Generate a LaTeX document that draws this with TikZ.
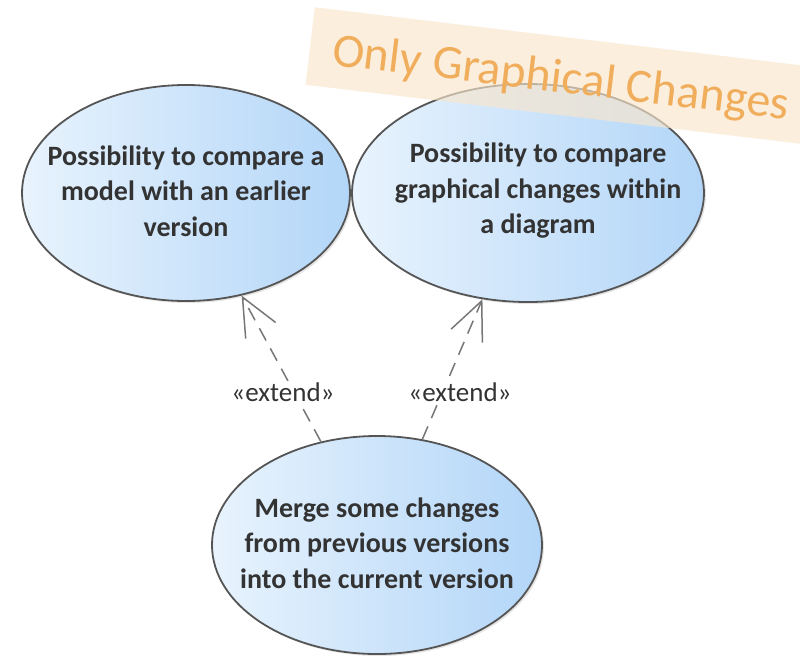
\documentclass[tikz,border=0pt]{standalone}
\usepackage{fontspec}
\setmainfont{Carlito}
\usetikzlibrary{shapes.geometric,arrows.meta,shadows}
\definecolor{ucleft}{HTML}{E8F3FD}
\definecolor{ucright}{HTML}{B3D6F8}
\definecolor{ucline}{HTML}{555555}
\definecolor{uctext}{HTML}{333333}
\definecolor{bannerfill}{HTML}{F9E6CC}
\definecolor{bannertext}{HTML}{F0AE5C}
\definecolor{arrowgray}{HTML}{777777}
\tikzset{
  usecase/.style={ellipse, draw=ucline, line width=1.8pt, shading=axis,
    left color=ucleft, right color=ucright, inner sep=0pt,
    drop shadow={opacity=0.2, shadow xshift=2pt, shadow yshift=-2pt}},
  uctxt/.style={align=center, text=uctext, font=\fontsize{28}{35.5}\selectfont\bfseries},
  extendarrow/.style={draw=arrowgray, line width=1.5pt, dash pattern=on 14pt off 9pt,
    -{Straight Barb[length=38pt, width=34pt, line width=1.5pt]}},
  extlabel/.style={fill=white, text=uctext, inner sep=2pt, font=\fontsize{27}{30}\selectfont},
  banner/.style={fill=bannerfill, fill opacity=0.65, minimum width=540pt,
    minimum height=78pt, inner sep=0pt},
  bannertxt/.style={text=bannertext, inner sep=0pt, font=\fontsize{48}{54}\selectfont}
}
\begin{document}
\begin{tikzpicture}[x=1pt,y=-1pt]
\useasboundingbox (0,0) rectangle (800,657);
\clip (0,0) rectangle (800,657);
\fill[white] (0,0) rectangle (800,657);
\node[usecase, minimum width=328pt, minimum height=216pt] (a) at (186,193) {};
\node[uctxt] (at) at (186,191) {Possibility to compare a\\model with an earlier\\version};
\node[usecase, minimum width=352pt, minimum height=218pt] (b) at (528,193) {};
\node[uctxt] (bt) at (538,191) {Possibility to compare\\graphical changes within\\a diagram};
\node[usecase, minimum width=330pt, minimum height=218pt] (c) at (377,545) {};
\node[uctxt] (ct) at (377,543) {Merge some changes\\from previous versions\\into the current version};
\draw[extendarrow] (c) -- (a);
\draw[extendarrow] (c) -- (b);
\node[extlabel] (l1) at (283,392) {«extend»};
\node[extlabel] (l2) at (460,392) {«extend»};
\node[banner, rotate=-6.8, anchor=west] (ban) at (310,46) {};
\node[bannertxt, rotate=-6.8, anchor=base west] (bantxt) at (331,65) {Only Graphical Changes};
\end{tikzpicture}
\end{document}
